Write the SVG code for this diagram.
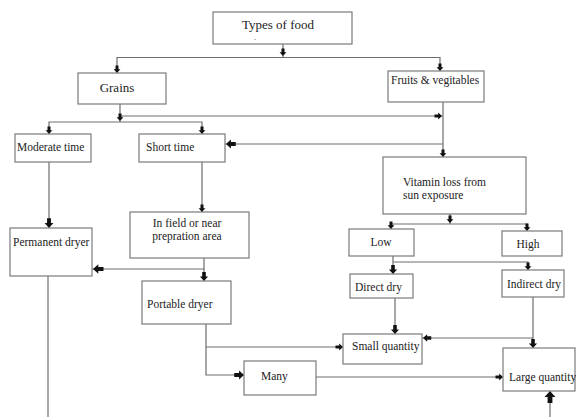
<svg xmlns="http://www.w3.org/2000/svg" xmlns:xlink="http://www.w3.org/1999/xlink" width="576" height="417" viewBox="0 0 576 417">
<style>
.box{fill:#fff;stroke:#7a7a7a;stroke-width:1.2}
.ln{fill:none;stroke:#6e6e6e;stroke-width:1.2}
.ah{fill:#111}
text{font-family:"Liberation Serif","Times New Roman",serif;font-size:11.5px;fill:#222}
.big{font-size:13px}
.c{text-anchor:middle}
</style>
<defs>
<path id="ar" d="M-7.5,-1.5 L-3.8,-1.5 L-3.8,-3.4 L0,0 L-3.8,3.4 L-3.8,1.5 L-7.5,1.5 Z"/>
</defs>
<rect width="576" height="417" fill="#fff"/>
<g id="connectors">
<path class="ln" d="M283,44 V57.5 M117,73 V57.5 H440 V71"/>
<path class="ln" d="M120,104 V122 M49,134 V122 H202 V134 M120,116 H443"/>
<path class="ln" d="M443,102 V157 M443,144 H225"/>
<path class="ln" d="M49,162 V228 M202,162 V212"/>
<path class="ln" d="M204,258 V281 M204,269 H92"/>
<path class="ln" d="M206,324 V375 H244 M206,347 H343"/>
<path class="ln" d="M316,377 H503"/>
<path class="ln" d="M48,276 V417"/>
<path class="ln" d="M450,214 V224 M391,229 V224 H527 V231"/>
<path class="ln" d="M393,256 V274 M393,262 H528 V270"/>
<path class="ln" d="M395,298 V334 M533,297 V348 M533,338 H422"/>
<path class="ln" d="M550,417 V391"/>
<g class="ah">
<use xlink:href="#ar" transform="translate(283,56) rotate(90)"/>
<use xlink:href="#ar" transform="translate(117,73) rotate(90)"/>
<use xlink:href="#ar" transform="translate(440,71) rotate(90)"/>
<use xlink:href="#ar" transform="translate(120,121) rotate(90)"/>
<use xlink:href="#ar" transform="translate(49,134) rotate(90)"/>
<use xlink:href="#ar" transform="translate(202,134) rotate(90)"/>
<use xlink:href="#ar" transform="translate(442,116)"/>
<use xlink:href="#ar" transform="translate(443,157) rotate(90)"/>
<use xlink:href="#ar" transform="translate(226,144) rotate(180) scale(1.3)"/>
<use xlink:href="#ar" transform="translate(49,228) rotate(90) scale(1.3)"/>
<use xlink:href="#ar" transform="translate(202,212) rotate(90)"/>
<use xlink:href="#ar" transform="translate(93,269) rotate(180) scale(1.4)"/>
<use xlink:href="#ar" transform="translate(204,281) rotate(90) scale(1.2)"/>
<use xlink:href="#ar" transform="translate(244,375) scale(1.3)"/>
<use xlink:href="#ar" transform="translate(343,347)"/>
<use xlink:href="#ar" transform="translate(503,377)"/>
<use xlink:href="#ar" transform="translate(450,223) rotate(90)"/>
<use xlink:href="#ar" transform="translate(391,229) rotate(90)"/>
<use xlink:href="#ar" transform="translate(527,231) rotate(90)"/>
<use xlink:href="#ar" transform="translate(393,274) rotate(90) scale(1.2)"/>
<use xlink:href="#ar" transform="translate(528,270) rotate(90)"/>
<use xlink:href="#ar" transform="translate(395,334) rotate(90) scale(1.2)"/>
<use xlink:href="#ar" transform="translate(533,348) rotate(90) scale(1.2)"/>
<use xlink:href="#ar" transform="translate(423,338) rotate(180) scale(1.1)"/>
<use xlink:href="#ar" transform="translate(550,391) rotate(-90) scale(1.6)"/>
</g>
</g>
<g id="types"><rect class="box" x="213" y="12" width="139" height="32"/><text class="big" x="242" y="29">Types of food</text><text x="254" y="40" style="font-size:8px">.</text></g>
<g id="grains"><rect class="box" x="78" y="73" width="88" height="31"/><text class="big c" x="117" y="92">Grains</text></g>
<g id="fruits"><rect class="box" x="388" y="71" width="96" height="31"/><text x="391" y="84">Fruits &amp; vegitables</text></g>
<g id="moderate"><rect class="box" x="15" y="134" width="76" height="28"/><text x="17" y="151">Moderate time</text></g>
<g id="short"><rect class="box" x="139" y="134" width="86" height="28"/><text x="146" y="151">Short time</text></g>
<g id="vitamin"><rect class="box" x="383" y="157" width="143" height="57"/><text x="403" y="186">Vitamin loss from</text><text x="403" y="199">sun exposure</text></g>
<g id="permanent"><rect class="box" x="10" y="228" width="82" height="48"/><text x="13" y="246">Permanent dryer</text></g>
<g id="infield"><rect class="box" x="130" y="212" width="119" height="46"/><text class="c" x="187" y="227">In field or near</text><text class="c" x="187" y="240">prepration area</text></g>
<g id="portable"><rect class="box" x="142" y="281" width="89" height="43"/><text x="147" y="308">Portable dryer</text></g>
<g id="low"><rect class="box" x="349" y="229" width="65" height="27"/><text class="c" x="381" y="246">Low</text></g>
<g id="high"><rect class="box" x="502" y="231" width="60" height="25"/><text class="c" x="528" y="248">High</text></g>
<g id="direct"><rect class="box" x="350" y="274" width="63" height="24"/><text x="355" y="291">Direct dry</text></g>
<g id="indirect"><rect class="box" x="502" y="270" width="62" height="27"/><text x="507" y="288">Indirect dry</text></g>
<g id="small"><rect class="box" x="343" y="334" width="79" height="30"/><text x="352" y="350">Small quantity</text></g>
<g id="many"><rect class="box" x="244" y="361" width="72" height="34"/><text x="261" y="380">Many</text></g>
<g id="large"><rect class="box" x="503" y="348" width="72" height="43"/><text x="509" y="381">Large quantity</text></g>
</svg>
